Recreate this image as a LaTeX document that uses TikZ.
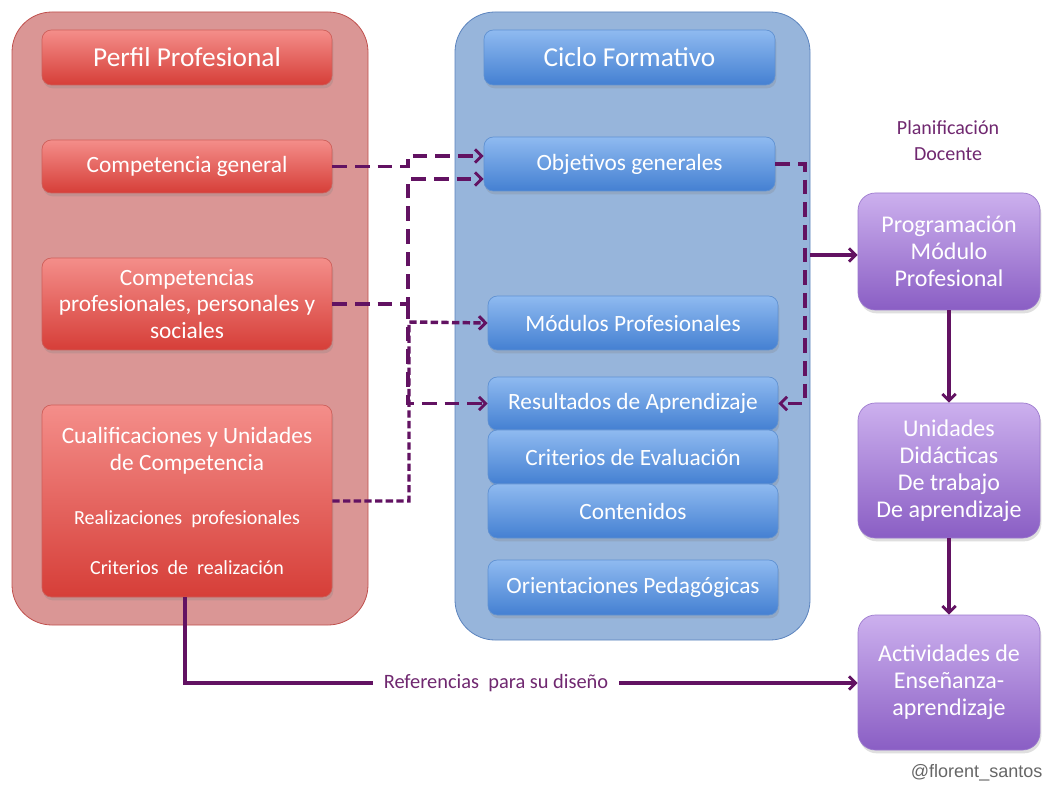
\documentclass[tikz,border=0pt]{standalone}
\usepackage{fontspec}
\setmainfont{Carlito}
\newfontfamily\markfont{Liberation Sans}
\usetikzlibrary{arrows.meta,shadows,calc}

\definecolor{panelred}{RGB}{218,150,149}
\definecolor{panelredline}{RGB}{192,80,77}
\definecolor{panelblue}{RGB}{151,181,219}
\definecolor{panelblueline}{RGB}{92,132,190}
\definecolor{redtop}{RGB}{244,142,138}
\definecolor{redbot}{RGB}{214,62,56}
\definecolor{redline}{RGB}{205,95,90}
\definecolor{bluetop}{RGB}{143,186,240}
\definecolor{bluebot}{RGB}{68,128,210}
\definecolor{blueline}{RGB}{95,145,210}
\definecolor{purptop}{RGB}{204,176,238}
\definecolor{purpbot}{RGB}{138,94,196}
\definecolor{purpline}{RGB}{155,120,205}
\definecolor{link}{RGB}{98,18,98}
\definecolor{linktext}{RGB}{112,40,112}

\tikzset{
  panel/.style={rounded corners=30pt, line width=0.6pt},
  box/.style={rounded corners=7pt, line width=0.5pt, text=white, align=center,
    inner sep=2pt, drop shadow={opacity=0.25, shadow xshift=1pt, shadow yshift=-2.5pt}},
  redbox/.style={box, draw=redline, top color=redtop, bottom color=redbot,
    minimum width=217.5pt},
  bluebox/.style={box, draw=blueline, top color=bluetop, bottom color=bluebot,
    minimum width=217.5pt},
  purpbox/.style={box, rounded corners=13pt, draw=purpline, top color=purptop,
    bottom color=purpbot, minimum width=136.5pt, minimum height=101.25pt},
  boxtext/.style={font=\fontsize{17.5}{20.2}\selectfont},
  titletext/.style={font=\fontsize{20.5}{24}\selectfont},
  smalltext/.style={font=\fontsize{15}{18}\selectfont, text=white},
  longdash/.style={draw=link, line width=2.8pt, dash pattern=on 11pt off 6pt},
  shortdash/.style={draw=link, line width=2.6pt, dash pattern=on 5.5pt off 2.5pt},
  solidlink/.style={draw=link, line width=2.5pt},
  tip/.style={-{Straight Barb[length=5pt,width=10pt,line width=2.2pt]}},
}

\begin{document}
\begin{tikzpicture}[x=0.75pt, y=-0.75pt]
  % page frame
  \useasboundingbox[fill=white] (0,0) rectangle (1049,787);

  % background panels
  \fill[panel, fill=panelred, draw=panelredline] (12,12) rectangle (368,625);
  \fill[panel, fill=panelblue, draw=panelblueline] (455,12) rectangle (810,640);
  \coordinate (bpright) at (810,255);

  % Perfil Profesional column
  \node[redbox, titletext, minimum height=41.25pt] (pp) at (187,57.5) {Perfil Profesional};
  \node[redbox, boxtext, minimum height=39.75pt] (cg) at (187,166.5) {Competencia general};
  \node[redbox, boxtext, minimum height=69pt] (cp) at (187,304)
    {Competencias\\profesionales, personales y\\sociales};
  \node[redbox, minimum height=144pt] (cq) at (187,501) {};
  \node[boxtext, text=white, align=center] (cqa) at (187,451)
    {Cualificaciones y Unidades\\de Competencia};
  \node[smalltext] (cqb) at (187,519) {Realizaciones\ \ profesionales};
  \node[smalltext] (cqc) at (187,568) {Criterios\ \ de\ \ realización};

  % Ciclo Formativo column
  \node[bluebox, titletext, minimum height=41.25pt, minimum width=218.25pt] (cf) at (629.5,57.5) {Ciclo Formativo};
  \node[bluebox, boxtext, minimum height=40.5pt, minimum width=218.25pt] (og) at (629.5,164) {Objetivos generales};
  \node[bluebox, boxtext, minimum height=40.5pt] (mp) at (633,323) {Módulos Profesionales};
  \node[bluebox, boxtext, minimum height=39.75pt] (ra) at (633,403.5) {Resultados de Aprendizaje};
  \node[bluebox, boxtext, minimum height=40.5pt] (ce) at (633,457) {Criterios de Evaluación};
  \node[bluebox, boxtext, minimum height=40.5pt] (co) at (633,511) {Contenidos};
  \node[bluebox, boxtext, minimum height=41.25pt] (op) at (633,587.5) {Orientaciones Pedagógicas};

  % Planificación Docente column
  \node[text=linktext, align=center, font=\fontsize{15}{19.5}\selectfont] (pd) at (948,141)
    {Planificación\\Docente};
  \node[purpbox, font=\fontsize{18}{20.3}\selectfont, minimum height=87.75pt] (pm) at (949,251.5)
    {Programación\\Módulo\\Profesional};
  \node[purpbox, font=\fontsize{18}{20.3}\selectfont] (ud) at (949,470.5)
    {Unidades\\Didácticas\\De trabajo\\De aprendizaje};
  \node[purpbox, font=\fontsize{18}{20.3}\selectfont] (ac) at (949,682.5)
    {Actividades de\\Enseñanza-\\aprendizaje};

  % dashed links into the Ciclo Formativo
  \coordinate (ogup) at ($(og.west)+(0,-8)$);
  \coordinate (oglow) at ($(og.west)+(0,15)$);
  \draw[longdash, tip] (cg.east) -| (408,156) -- (ogup);
  \draw[longdash, tip] (cp.east) -| (408,179) -- (oglow);
  \draw[longdash, tip] (408,304) |- (ra.west);
  \draw[shortdash, tip] (cq.east) -| (409,322) -- (mp.west);
  \draw[longdash, tip] (og.east) -- (805,164) |- (ra.east);

  % solid links to the planning column
  \draw[solidlink, tip] (bpright) -- (bpright -| pm.west);
  \draw[solidlink, tip] (pm.south) -- (ud.north);
  \draw[solidlink, tip] (ud.south) -- (ac.north);

  % design references
  \node[text=linktext, inner xsep=8pt, font=\fontsize{15.3}{18}\selectfont] (ref) at (496,683) {Referencias\ \ para su diseño};
  \draw[solidlink] (cq.south -| 185,0) -- (185,683) -- (ref.west);
  \draw[solidlink, tip] (ref.east) -- (ac.west |- ref.east);

  % signature
  \node[text=black!60, font=\markfont\fontsize{13.5}{16}\selectfont, anchor=east] (sig) at (1047,773) {@florent\_santos};
\end{tikzpicture}
\end{document}
